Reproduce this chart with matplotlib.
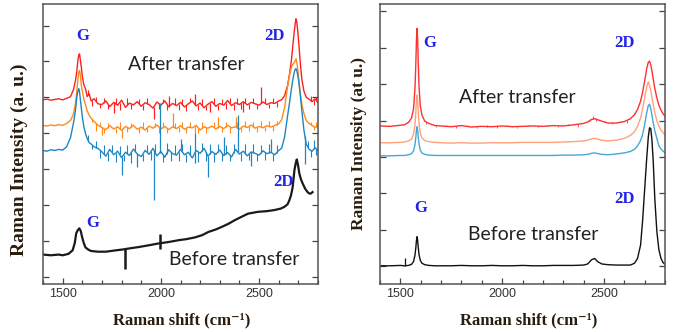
import numpy as np
import matplotlib.pyplot as plt

# =========================
# DATA - LEFT PANEL
# =========================

left_x = [1400, 1420, 1440, 1460, 1480, 1500, 1520, 1540,
          1555, 1565, 1572, 1578, 1582, 1586, 1590, 1595, 1601, 1608, 1616, 1625, 1635, 1645, 1660, 1680,
          1700, 1720, 1740, 1760, 1780, 1800, 1820, 1840, 1860, 1880,
          1900, 1920, 1940, 1960, 1980, 2000, 2020, 2040, 2060, 2080,
          2100, 2120, 2140, 2160, 2180, 2200, 2220, 2240, 2260, 2280,
          2300, 2320, 2340, 2360, 2380, 2400, 2420, 2440, 2460, 2480,
          2500, 2520, 2540, 2560, 2580, 2600,
          2615, 2630, 2645, 2655, 2665, 2672, 2679, 2684, 2688, 2692,
          2697, 2703, 2710, 2718, 2728, 2740, 2755, 2770, 2785, 2800]

left_red = [4.93, 4.95, 4.92, 4.94, 4.96, 4.93, 4.97, 5.02,
            5.21, 5.46, 5.72, 6.05, 6.18, 6.21, 6.05, 5.85, 5.55, 5.35, 5.25, 5.02, 5.10, 4.90, 4.96, 4.82,
            4.80, 4.90, 4.74, 4.86, 4.78, 4.92, 4.72, 4.84, 4.79, 4.88,
            4.75, 4.85, 4.80, 4.70, 4.87, 4.78, 4.90, 4.74, 4.83, 4.77,
            4.86, 4.73, 4.82, 4.90, 4.76, 4.84, 4.71, 4.81, 4.88, 4.75,
            4.83, 4.78, 4.91, 4.77, 4.85, 4.80, 4.88, 4.79, 4.86, 4.82,
            4.78, 4.87, 4.80, 4.85, 4.83, 4.90,
            4.93, 5.05, 5.32, 5.65, 6.05, 6.45, 6.82, 7.05, 7.19, 7.10,
            6.85, 6.45, 5.95, 5.50, 5.18, 5.00, 4.95, 4.88, 4.96, 4.85]

left_orange = [4.22, 4.20, 4.23, 4.21, 4.24, 4.22, 4.27, 4.36,
               4.53, 4.82, 5.16, 5.52, 5.70, 5.75, 5.62, 5.34, 5.15, 4.95, 4.80, 4.62, 4.50, 4.42, 4.33, 4.22,
               4.16, 4.10, 4.21, 4.12, 4.18, 4.08, 4.19, 4.13, 4.22, 4.11,
               4.17, 4.09, 4.20, 4.14, 4.23, 4.12, 4.19, 4.10, 4.18, 4.13,
               4.21, 4.11, 4.17, 4.15, 4.22, 4.09, 4.18, 4.14, 4.20, 4.12,
               4.19, 4.13, 4.22, 4.15, 4.18, 4.11, 4.20, 4.16, 4.23, 4.14,
               4.19, 4.15, 4.21, 4.17, 4.22, 4.26,
               4.38, 4.72, 5.30, 5.62, 5.85, 5.92, 5.97, 6.02, 6.07, 5.98,
               5.78, 5.45, 5.10, 4.80, 4.55, 4.36, 4.27, 4.22, 4.16, 4.20]

left_blue = [3.52, 3.50, 3.54, 3.52, 3.55, 3.53, 3.62, 3.88,
             4.28, 4.62, 5.00, 5.18, 5.24, 5.15, 4.95, 4.70, 4.42, 4.18, 4.00, 3.85, 3.74, 3.70, 3.62, 3.58,
             3.48, 3.36, 3.55, 3.40, 3.50, 3.32, 3.47, 3.38, 3.56, 3.42,
             3.35, 3.52, 3.41, 3.58, 3.37, 3.49, 3.33, 3.54, 3.43, 3.39,
             3.55, 3.40, 3.47, 3.31, 3.52, 3.44, 3.58, 3.36, 3.49, 3.41,
             3.53, 3.38, 3.46, 3.34, 3.55, 3.42, 3.50, 3.37, 3.48, 3.44,
             3.39, 3.51, 3.43, 3.47, 3.40, 3.52,
             3.58, 3.90, 4.48, 4.85, 5.25, 5.50, 5.70, 5.78, 5.80, 5.74,
             5.62, 5.40, 5.05, 4.62, 4.10, 3.70, 3.55, 3.50, 3.60, 3.52]

left_black_x = [1400, 1440, 1480, 1500, 1530, 1551, 1562, 1569, 1577, 1585,
                1592, 1599, 1607, 1616, 1630, 1644, 1680, 1720, 1760, 1804,
                1850, 1888, 1940, 1989, 2040, 2090, 2130, 2175, 2210, 2242,
                2280, 2310, 2345, 2377, 2410, 2444, 2494, 2540, 2578, 2610,
                2629, 2645, 2654, 2663, 2671, 2680, 2686, 2692, 2698, 2705,
                2713, 2722, 2735, 2747, 2756, 2764, 2772]
left_black = [0.62, 0.60, 0.62, 0.60, 0.64, 0.74, 0.95, 1.21, 1.30, 1.35,
              1.28, 1.11, 0.95, 0.82, 0.76, 0.72, 0.70, 0.70, 0.73, 0.76,
              0.80, 0.83, 0.88, 0.93, 0.97, 1.02, 1.05, 1.10, 1.16, 1.25,
              1.32, 1.39, 1.48, 1.58, 1.67, 1.76, 1.81, 1.83, 1.86, 1.90,
              1.95, 2.02, 2.13, 2.28, 2.50, 2.97, 3.15, 3.27, 3.12, 2.88,
              2.72, 2.60, 2.45, 2.36, 2.32, 2.32, 2.36]

# big noise spikes (position, tip value)
red_spike_x = [1760, 1965, 2040, 2175, 2250, 2420, 2511]
red_spike_y = [4.55, 4.40, 5.05, 5.10, 4.59, 4.58, 5.30]
orange_spike_x = [1700, 1801, 2060, 2175, 2289, 2380]
orange_spike_y = [3.95, 3.86, 4.55, 4.00, 4.46, 4.45]
blue_spike_x = [1801, 1880, 1964, 1994, 2100, 2175, 2175, 2242, 2320, 2393, 2460, 2560, 2733]
blue_spike_y = [2.83, 3.05, 2.13, 4.83, 3.85, 4.00, 3.16, 2.77, 3.90, 4.50, 3.08, 3.85, 3.15]
black_spike_x = [1818, 1995, 1995]
black_spike_y = [0.23, 1.20, 0.78]

# small fuzz of the noisy spectra
red_fuzz_x = [1630, 1650, 1670, 1690, 1710, 1730, 1770, 1790, 1830, 1850, 1890, 1910, 1930, 1990,
              2010, 2030, 2070, 2090, 2110, 2130, 2150, 2190, 2210, 2230, 2270, 2290, 2310, 2330,
              2350, 2370, 2390, 2410, 2430, 2450, 2470, 2490, 2530, 2550, 2570, 2590, 2765, 2778, 2792]
red_fuzz_y = [5.20, 4.75, 5.00, 4.70, 4.98, 4.68, 4.97, 4.66, 4.98, 4.68, 4.95, 4.66, 4.97, 4.68,
              4.96, 4.65, 4.98, 4.66, 4.96, 4.62, 4.97, 4.66, 4.95, 4.64, 4.97, 4.65, 4.96, 4.68,
              4.99, 4.66, 4.97, 4.68, 4.99, 4.67, 4.98, 4.68, 4.99, 4.70, 4.98, 4.72, 5.05, 4.78, 5.02]
orange_fuzz_x = [1650, 1670, 1690, 1710, 1730, 1770, 1790, 1830, 1850, 1890, 1910, 1930, 1970, 1990,
                 2010, 2030, 2070, 2090, 2110, 2130, 2150, 2190, 2210, 2230, 2270, 2310, 2330, 2350,
                 2390, 2410, 2430, 2450, 2470, 2490, 2510, 2530, 2550, 2570, 2590, 2765, 2778, 2792]
orange_fuzz_y = [4.32, 4.05, 4.30, 4.02, 4.28, 4.00, 4.30, 4.03, 4.29, 4.01, 4.30, 4.04, 4.28, 4.00,
                 4.31, 4.02, 4.29, 4.03, 4.30, 4.01, 4.32, 4.02, 4.30, 4.00, 4.31, 4.03, 4.30, 4.02,
                 4.31, 4.03, 4.33, 4.05, 4.32, 4.04, 4.33, 4.06, 4.34, 4.07, 4.33, 4.32, 4.08, 4.30]
blue_fuzz_x = [1630, 1650, 1670, 1690, 1710, 1730, 1750, 1770, 1790, 1810, 1830, 1850, 1870, 1910,
               1930, 1950, 1970, 2010, 2030, 2050, 2070, 2090, 2110, 2130, 2150, 2190, 2210, 2230,
               2250, 2270, 2290, 2310, 2330, 2350, 2370, 2410, 2430, 2450, 2470, 2490, 2510, 2530,
               2550, 2570, 2590, 2748, 2762, 2778, 2792]
blue_fuzz_y = [3.95, 3.55, 3.78, 3.30, 3.68, 3.22, 3.66, 3.20, 3.65, 3.24, 3.68, 3.18, 3.70, 3.22,
               3.67, 3.25, 3.70, 3.20, 3.72, 3.22, 3.66, 3.24, 3.70, 3.19, 3.68, 3.21, 3.72, 3.23,
               3.69, 3.20, 3.70, 3.22, 3.68, 3.24, 3.71, 3.23, 3.69, 3.25, 3.70, 3.22, 3.68, 3.25,
               3.70, 3.24, 3.67, 3.78, 3.35, 3.80, 3.38]

# =========================
# DATA - RIGHT PANEL
# =========================

right_x = [1400, 1450, 1500, 1520, 1540,
           1555, 1565, 1572, 1576, 1579, 1582, 1585, 1588, 1592, 1598, 1606, 1620, 1640, 1670,
           1700, 1750, 1800, 1850, 1900, 1950, 2000, 2050, 2100, 2150, 2200, 2250, 2300, 2350, 2400,
           2420, 2440, 2455, 2470, 2490, 2520, 2560, 2600,
           2630, 2650, 2665, 2680, 2690, 2700, 2710, 2718, 2724, 2730, 2736, 2742, 2750, 2760, 2770, 2780, 2790, 2800]

right_red = [3.85, 3.84, 3.87, 3.88, 3.95,
             4.07, 4.33, 4.90, 5.57, 6.20, 6.53, 6.20, 5.57, 4.90, 4.40, 4.15, 3.98, 3.92, 3.86,
             3.85, 3.83, 3.86, 3.82, 3.84, 3.83, 3.85, 3.83, 3.84, 3.85, 3.84, 3.86, 3.85, 3.88, 3.92,
             3.96, 4.03, 4.05, 4.02, 3.98, 3.93, 3.93, 3.97,
             4.05, 4.16, 4.30, 4.53, 4.78, 5.08, 5.42, 5.60, 5.63, 5.53, 5.36, 5.15, 4.88, 4.62, 4.42, 4.29, 4.19, 4.12]

right_orange = [3.39, 3.39, 3.40, 3.41, 3.44,
                3.49, 3.63, 3.90, 4.23, 4.54, 4.70, 4.54, 4.23, 3.90, 3.65, 3.52, 3.45, 3.42, 3.40,
                3.39, 3.38, 3.39, 3.38, 3.38, 3.39, 3.39, 3.39, 3.40, 3.40, 3.40, 3.40, 3.41, 3.42, 3.44,
                3.46, 3.50, 3.51, 3.49, 3.46, 3.44, 3.46, 3.51,
                3.59, 3.69, 3.84, 4.07, 4.32, 4.63, 4.92, 5.06, 4.96, 4.82, 4.63, 4.44, 4.21, 3.99, 3.85, 3.74, 3.67, 3.61]

right_blue = [3.03, 3.03, 3.04, 3.04, 3.06,
              3.09, 3.17, 3.34, 3.54, 3.73, 3.83, 3.73, 3.54, 3.34, 3.19, 3.11, 3.07, 3.05, 3.04,
              3.04, 3.04, 3.04, 3.04, 3.04, 3.04, 3.04, 3.04, 3.04, 3.04, 3.04, 3.04, 3.05, 3.05, 3.06,
              3.07, 3.10, 3.11, 3.09, 3.07, 3.06, 3.08, 3.11,
              3.15, 3.21, 3.30, 3.45, 3.62, 3.88, 4.21, 4.41, 4.45, 4.33, 4.14, 3.94, 3.72, 3.51, 3.30, 3.22, 3.16, 3.12]

right_black = [0.01, 0.01, 0.02, 0.01, 0.02,
               0.05, 0.13, 0.31, 0.51, 0.70, 0.81, 0.70, 0.51, 0.31, 0.16, 0.08, 0.04, 0.02, 0.01,
               0.01, 0.01, 0.02, 0.01, 0.01, 0.02, 0.01, 0.01, 0.02, 0.01, 0.01, 0.02, 0.02, 0.02, 0.03,
               0.06, 0.18, 0.21, 0.12, 0.06, 0.04, 0.03, 0.03,
               0.03, 0.08, 0.21, 0.58, 1.25, 2.10, 2.95, 3.55, 3.80, 3.78, 3.45, 2.90, 1.85, 0.95, 0.45, 0.22, 0.10, 0.05]

right_black_spike_x = [1524]
right_black_spike_y = [0.22]
right_red_fuzz_x = [1625, 1675, 1725, 1775, 1825, 1875, 1925, 1975, 2025, 2075, 2125, 2175,
                    2225, 2275, 2325, 2375, 2430, 2448, 2462, 2505, 2540, 2580, 2615]
right_red_fuzz_y = [3.90, 3.81, 3.89, 3.80, 3.88, 3.80, 3.88, 3.80, 3.89, 3.80, 3.89, 3.81,
                    3.89, 3.81, 3.90, 3.83, 4.05, 4.12, 3.98, 4.00, 3.90, 3.98, 3.93]

x_ticks = [1500, 2000, 2500]
y_ticks = [0, 1, 2, 3, 4, 5, 6, 7]

# =========================
# STYLE
# =========================

serif = ["Liberation Serif", "DejaVu Serif"]
label_color = "#2b1d0e"
peak_color = "#2323e8"
text_color = "#222222"


def style_axis(ax, ylim):
    ax.set_xlim(1400, 2800)
    ax.set_ylim(ylim)
    ax.set_xticks(x_ticks)
    ax.set_xticks(range(1400, 2801, 100), minor=True)
    ax.set_yticks(y_ticks)
    ax.tick_params(axis="both", which="both", direction="in", colors="#444444",
                   labelcolor="#333333", labelsize=9, width=0.9)
    ax.tick_params(axis="y", which="both", left=True, right=True, labelleft=False, length=4)
    ax.tick_params(axis="x", which="major", length=4, pad=3)
    ax.tick_params(axis="x", which="minor", length=3)
    for lab in ax.get_xticklabels():
        lab.set_family("Liberation Sans")
    for sp in ax.spines.values():
        sp.set_color("#555555")
        sp.set_linewidth(1.1)


def add_spikes(ax, xs, ys, sx, sy, color, lw):
    base = np.interp(sx, xs, ys)
    ax.vlines(sx, base, sy, color=color, lw=lw)


fig = plt.figure(figsize=(6.73, 3.32), dpi=100)

# =========================
# LEFT PANEL
# =========================

ax1 = fig.add_axes([43 / 673, 48 / 332, 275 / 673, 280 / 332])
ax1.plot(left_x, left_red, color="#ff1f1f", lw=1.0)
add_spikes(ax1, left_x, left_red, red_fuzz_x, red_fuzz_y, "#ff1f1f", 0.8)
ax1.plot(left_x, left_orange, color="#ff8a1c", lw=1.0)
add_spikes(ax1, left_x, left_orange, orange_fuzz_x, orange_fuzz_y, "#ff8a1c", 0.8)
ax1.plot(left_x, left_blue, color="#1f86c2", lw=1.0)
add_spikes(ax1, left_x, left_blue, blue_fuzz_x, blue_fuzz_y, "#1f86c2", 0.8)
ax1.plot(left_black_x, left_black, color="#1a1a1a", lw=1.6)
add_spikes(ax1, left_x, left_red, red_spike_x, red_spike_y, "#ff1f1f", 0.9)
add_spikes(ax1, left_x, left_orange, orange_spike_x, orange_spike_y, "#ff8a1c", 0.9)
add_spikes(ax1, left_x, left_blue, blue_spike_x, blue_spike_y, "#1f86c2", 0.9)
add_spikes(ax1, left_black_x, left_black, black_spike_x, black_spike_y, "#1a1a1a", 1.8)
style_axis(ax1, (-0.2, 7.6))

ax1.text(1604, 6.72, "G", color=peak_color, family=serif, weight="bold", fontsize=12, ha="center", va="center")
ax1.text(2579, 6.72, "2D", color=peak_color, family=serif, weight="bold", fontsize=12, ha="center", va="center")
ax1.text(1652, 1.51, "G", color=peak_color, family=serif, weight="bold", fontsize=12, ha="center", va="center")
ax1.text(2626, 2.64, "2D", color=peak_color, family=serif, weight="bold", fontsize=12, ha="center", va="center")
ax1.text(2128, 5.92, "After transfer", color=text_color, family="Lato", fontsize=14, ha="center", va="center")
ax1.text(2373, 0.49, "Before transfer", color=text_color, family="Lato", fontsize=14, ha="center", va="center")

ax1.set_xlabel("Raman shift (cm⁻¹)", family=serif, weight="bold", fontsize=12, color=label_color)
ax1.xaxis.set_label_coords(0.504, -0.129)
ax1.xaxis.label.set_va("center")
ax1.set_ylabel("Raman Intensity (a. u.)", family=serif, weight="bold", fontsize=14, color=label_color)
ax1.yaxis.set_label_coords(-0.085, 0.443)
ax1.yaxis.label.set_va("center")

# =========================
# RIGHT PANEL
# =========================

ax2 = fig.add_axes([380 / 673, 48 / 332, 285 / 673, 280 / 332])
ax2.plot(right_x, right_red, color="#ff3030", lw=1.0)
add_spikes(ax2, right_x, right_red, right_red_fuzz_x, right_red_fuzz_y, "#ff3030", 0.6)
ax2.plot(right_x, right_orange, color="#ffa27a", lw=1.0)
ax2.plot(right_x, right_blue, color="#48a6d8", lw=1.0)
ax2.plot(right_x, right_black, color="#111111", lw=1.0)
add_spikes(ax2, right_x, right_black, right_black_spike_x, right_black_spike_y, "#111111", 0.9)
style_axis(ax2, (-0.49, 7.2))

ax2.text(1644, 6.14, "G", color=peak_color, family=serif, weight="bold", fontsize=12, ha="center", va="center")
ax2.text(2599, 6.14, "2D", color=peak_color, family=serif, weight="bold", fontsize=12, ha="center", va="center")
ax2.text(1598, 1.61, "G", color=peak_color, family=serif, weight="bold", fontsize=12, ha="center", va="center")
ax2.text(2599, 1.84, "2D", color=peak_color, family=serif, weight="bold", fontsize=12, ha="center", va="center")
ax2.text(2073, 4.63, "After transfer", color=text_color, family="Lato", fontsize=14, ha="center", va="center")
ax2.text(2153, 0.88, "Before transfer", color=text_color, family="Lato", fontsize=14, ha="center", va="center")

ax2.set_xlabel("Raman shift (cm⁻¹)", family=serif, weight="bold", fontsize=12, color=label_color)
ax2.xaxis.set_label_coords(0.52, -0.129)
ax2.xaxis.label.set_va("center")
ax2.set_ylabel("Raman Intensity (at u.)", family=serif, weight="bold", fontsize=12.5, color=label_color)
ax2.yaxis.set_label_coords(-0.072, 0.5)
ax2.yaxis.label.set_va("center")

fig.savefig("out.png", dpi=100)
